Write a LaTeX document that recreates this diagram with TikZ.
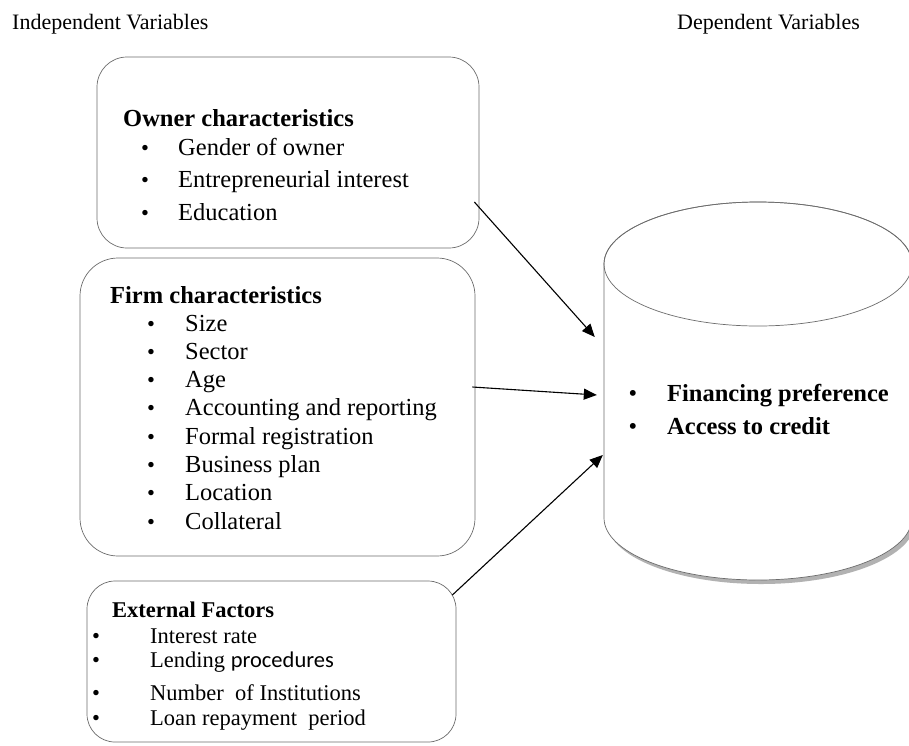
\documentclass[tikz,border=0pt]{standalone}
\usepackage{fontspec}
\setmainfont{Liberation Serif}
\newfontfamily\procfont{Carlito}
\usetikzlibrary{arrows.meta}

\begin{document}
\begin{tikzpicture}[x=1pt,y=-1pt,
    varbox/.style={draw=gray!85!black, line width=0.7pt, inner sep=0pt},
    toplabel/.style={anchor=base west, inner sep=0pt, font=\fontsize{22}{26}\selectfont},
    boxhead/.style={anchor=base west, inner sep=0pt, font=\bfseries\fontsize{24.5}{29}\selectfont},
    item/.style={anchor=base west, inner sep=0pt, font=\fontsize{24.5}{29}\selectfont},
    smallhead/.style={anchor=base west, inner sep=0pt, font=\bfseries\fontsize{22.5}{27}\selectfont},
    smallitem/.style={anchor=base west, inner sep=0pt, font=\fontsize{22.5}{27}\selectfont},
    dot/.style={anchor=base, inner sep=0pt, font=\fontsize{22.5}{27}\selectfont},
    link/.style={-{Triangle[length=13pt,width=11pt]}, line width=1.1pt}]
  \clip (0,0) rectangle (909,745);
  \fill[white] (0,0) rectangle (909,745);

  % titles
  \node[toplabel] (indep) at (12,29) {Independent Variables};
  \node[toplabel] (dep) at (677,29) {Dependent Variables};

  % Owner characteristics
  \node[varbox, rounded corners=30pt, minimum width=382pt, minimum height=191pt] (owner) at (288,152.5) {};
  \node[boxhead] (ownerhead) at (123,126) {Owner characteristics};
  \foreach \txt [count=\i] in {Gender of owner, Entrepreneurial interest, Education} {
    \node[dot] (ownerdot\i) at (145,155+32.5*\i-32.5) {\textbullet};
    \node[item] (owner\i) at (178,155+32.5*\i-32.5) {\txt};
  }

  % Firm characteristics
  \node[varbox, rounded corners=38pt, minimum width=395pt, minimum height=298pt] (firm) at (277.5,407) {};
  \node[boxhead] (firmhead) at (110,303) {Firm characteristics};
  \foreach \txt [count=\i] in {Size, Sector, Age, Accounting and reporting,
      Formal registration, Business plan, Location, Collateral} {
    \node[dot] (firmdot\i) at (151,331+28.3*\i-28.3) {\textbullet};
    \node[item] (firm\i) at (185,331+28.3*\i-28.3) {\txt};
  }

  % External Factors
  \node[varbox, rounded corners=28pt, minimum width=369pt, minimum height=161pt] (ext) at (271.5,661.5) {};
  \node[smallhead] (exthead) at (112,617) {External Factors};
  \node[dot] (extdot1) at (96,643) {\textbullet};
  \node[smallitem] (ext1) at (150,643) {Interest rate};
  \node[dot] (extdot2) at (96,667) {\textbullet};
  \node[smallitem] (ext2) at (150,667) {Lending {\procfont procedures}};
  \node[dot] (extdot3) at (96,700) {\textbullet};
  \node[smallitem] (ext3) at (150,700) {Number\ \ of Institutions};
  \node[dot] (extdot4) at (96,725) {\textbullet};
  \node[smallitem] (ext4) at (150,725) {Loan repayment\ \ period};

  % cylinder: Dependent variables
  \fill[gray!60] (607,268) -- (607,522) arc[start angle=180, end angle=0, x radius=154, y radius=62]
    -- (915,268) -- cycle;
  \filldraw[fill=white, draw=gray!85!black, line width=0.7pt]
    (604,264) -- (604,518) arc[start angle=180, end angle=0, x radius=154, y radius=62]
    -- (912,264) arc[start angle=0, end angle=-180, x radius=154, y radius=62];
  \draw[gray!85!black, line width=0.7pt] (758,264) ellipse[x radius=154, y radius=62];
  \node[inner sep=0pt, minimum width=308pt, minimum height=254pt] (cyl) at (758,391) {};
  \node[boxhead] (dep1) at (667,401) {Financing preference};
  \node[dot, font=\fontsize{24.5}{29}\selectfont] (depdot1) at (633,401) {\textbullet};
  \node[boxhead] (dep2) at (667,434) {Access to credit};
  \node[dot, font=\fontsize{24.5}{29}\selectfont] (depdot2) at (633,434) {\textbullet};

  % arrows
  \draw[link] ([shift={(-5,49.5)}]owner.east) -- ([shift={(-9,-54)}]cyl.west);
  \draw[link] ([shift={(-3,-20)}]firm.east) -- ([shift={(-7,4)}]cyl.west);
  \draw[link] ([shift={(-4,-66.5)}]ext.east) -- ([shift={(-1,64)}]cyl.west);
\end{tikzpicture}
\end{document}
